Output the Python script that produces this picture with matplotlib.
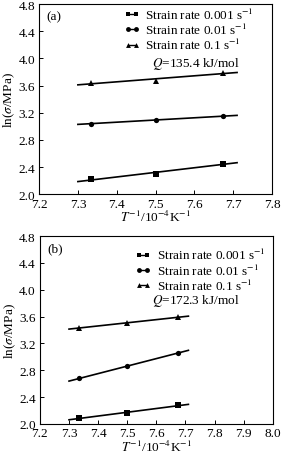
import numpy as np
import matplotlib.pyplot as plt
from matplotlib.lines import Line2D

plt.rcParams['font.family'] = ['Liberation Serif', 'DejaVu Serif']
plt.rcParams['mathtext.fontset'] = 'stix'

# inverse temperature, 10^-4 K^-1
inv_T = [7.335, 7.50, 7.675]
rate_labels = ['Strain rate 0.001 s$^{-1}$', 'Strain rate 0.01 s$^{-1}$', 'Strain rate 0.1 s$^{-1}$']
markers = ['s', 'o', '^']

# ln(sigma/MPa) for each strain rate
a_vals = [[2.22, 2.30, 2.45],
          [3.04, 3.09, 3.15],
          [3.64, 3.67, 3.79]]
b_vals = [[2.09, 2.16, 2.28],
          [2.68, 2.86, 3.06],
          [3.43, 3.51, 3.59]]
q_texts = ['$Q$=135.4 kJ/mol', '$Q$=172.3 kJ/mol']
panel_tags = ['(a)', '(b)']
fit_range = [7.30, 7.71]

FS = 9.5

fig = plt.figure(figsize=(2.81, 4.56), dpi=100)
ax_a = fig.add_axes([0.139, 0.572, 0.829, 0.417])
ax_b = fig.add_axes([0.142, 0.068, 0.829, 0.412])


def draw_panel(ax, vals, xmax, xticks, tag, qtext, qpos, legpos):
    xs = np.array(inv_T)
    xf = np.array(fit_range)
    for v, m in zip(vals, markers):
        ax.plot(xs, v, m, color='black', ms=3.8, mew=0)
        k, b = np.polyfit(xs, v, 1)
        ax.plot(xf, k * xf + b, '-', color='black', lw=1.2)
    handles = [Line2D([0, 1], [0, 0], color='black', lw=1.0, marker=m, ms=3.5,
                      markevery=[0], mew=0) for m in markers]
    ax.legend(handles, rate_labels, loc='upper left', bbox_to_anchor=legpos,
              frameon=False, fontsize=FS, numpoints=2, handlelength=1.2,
              handletextpad=0.4, labelspacing=0.0, borderaxespad=0,
              borderpad=0)
    ax.text(0.03, 0.965, tag, transform=ax.transAxes, ha='left', va='top', fontsize=FS)
    ax.text(qpos[0], qpos[1], qtext, transform=ax.transAxes, ha='left', va='center', fontsize=FS)
    ax.set_xlim(7.2, xmax)
    ax.set_ylim(2.0, 4.8)
    ax.set_xticks(xticks)
    ax.set_yticks(np.arange(2.0, 4.81, 0.4))
    ax.xaxis.set_major_formatter(plt.FormatStrFormatter('%.1f'))
    ax.yaxis.set_major_formatter(plt.FormatStrFormatter('%.1f'))
    ax.tick_params(direction='in', labelsize=FS, length=3, width=0.7)
    ax.tick_params(axis='x', pad=2.5)
    ax.tick_params(axis='y', pad=3)
    for lbl in ax.get_yticklabels():
        lbl.set_va('center_baseline')
    for s in ax.spines.values():
        s.set_linewidth(0.8)
    ax.set_xlabel('$T^{-1}$/10$^{-4}$K$^{-1}$', fontsize=FS, labelpad=-0.5)
    ax.set_ylabel(r'ln($\sigma$/MPa)', fontsize=FS, labelpad=1)


draw_panel(ax_a, a_vals, 7.8, np.arange(7.2, 7.81, 0.1), panel_tags[0], q_texts[0],
           (0.485, 0.69), (0.365, 0.985))
draw_panel(ax_b, b_vals, 8.0, np.arange(7.2, 8.01, 0.1), panel_tags[1], q_texts[1],
           (0.48, 0.66), (0.41, 0.94))

fig.savefig('out.png', dpi=100)
